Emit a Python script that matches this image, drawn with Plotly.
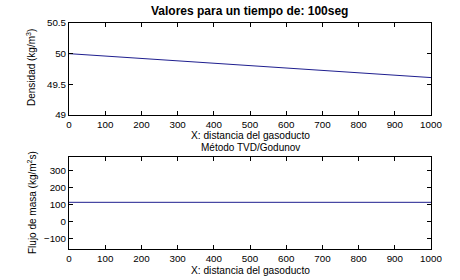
import plotly.graph_objects as go

x_dist = [0, 1000]
densidad = [50.0, 49.61]
flujo = [111, 111]
x_ticks = [0, 100, 200, 300, 400, 500, 600, 700, 800, 900, 1000]
dens_ticks = [49, 49.5, 50, 50.5]
dens_labels = ["49", "49.5", "50", "50.5"]
flujo_ticks = [-100, 0, 100, 200, 300]

FONT = "Liberation Sans, Arial, sans-serif"
LINE = "#1f1f8f"
W, H = 460, 280

fig = go.Figure()
fig.add_trace(go.Scatter(x=x_dist, y=densidad, mode="lines",
                         line=dict(color=LINE, width=1), xaxis="x", yaxis="y"))
fig.add_trace(go.Scatter(x=x_dist, y=flujo, mode="lines",
                         line=dict(color=LINE, width=1), xaxis="x2", yaxis="y2"))

axcommon = dict(showline=True, linecolor="black", linewidth=1, mirror="allticks",
                ticks="inside", ticklen=4, tickcolor="black", showgrid=False,
                zeroline=False, automargin=False,
                tickfont=dict(family=FONT, size=9.8, color="black"))


def px(xp):
    return xp / W


def py(yp):
    return 1 - yp / H


def ann(text, xp, yp, angle=0, size=10.5):
    return dict(text=text, x=px(xp), y=py(yp), xref="paper", yref="paper",
                xanchor="center", yanchor="middle", showarrow=False, borderpad=0,
                textangle=angle, font=dict(size=size, family=FONT, color="black"))


fig.update_layout(
    width=W, height=H,
    margin=dict(l=0, r=0, t=0, b=0, autoexpand=False),
    paper_bgcolor="white", plot_bgcolor="white",
    showlegend=False,
    font=dict(family=FONT, color="black"),
    xaxis=dict(domain=[px(69), px(431)], anchor="y", range=[0, 1000],
               tickvals=x_ticks, **axcommon),
    yaxis=dict(domain=[py(115), py(23)], anchor="x", range=[49, 50.5],
               tickvals=dens_ticks, ticktext=dens_labels, **axcommon),
    xaxis2=dict(domain=[px(69), px(431)], anchor="y2", range=[0, 1000],
                tickvals=x_ticks, **axcommon),
    yaxis2=dict(domain=[py(249), py(157)], anchor="x2", range=[-163, 377],
                tickvals=flujo_ticks, **axcommon),
    annotations=[
        ann("<b>Valores para un tiempo de: 100seg</b>", 249, 11.5, size=12),
        ann("X: distancia del gasoducto", 250, 135, size=10.2),
        ann("Método TVD/Godunov", 250, 147.5, size=10),
        ann("X: distancia del gasoducto", 250, 270, size=10.2),
        ann("Densidad (kg/m<sup>3</sup>)", 31, 68, angle=-90, size=10),
        ann("Flujo de masa (kg/m<sup>2</sup>s)", 32, 203, angle=-90, size=10),
    ],
)

fig.write_html("out.html", config={"displayModeBar": False},
               post_script="document.body.style.margin='0px';document.body.style.overflow='hidden';")
